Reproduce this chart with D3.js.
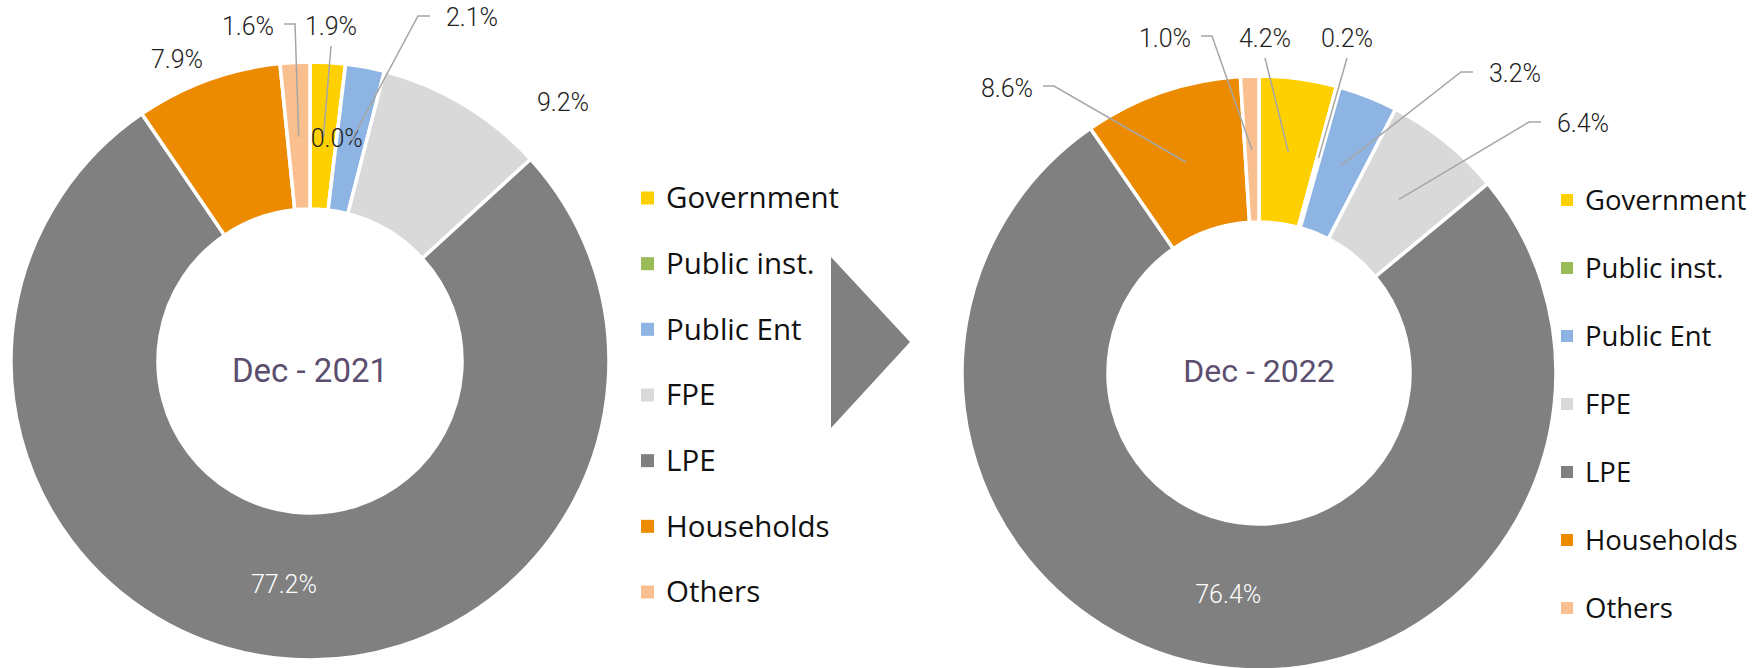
<!DOCTYPE html>
<html>
<head>
<meta charset="utf-8">
<script src="https://cdn.jsdelivr.net/npm/d3@7"></script>
<style>
  body { margin: 0; background: #fff; }
  .pct { font-family: Roboto, sans-serif; font-weight: 300; fill: #222; }
  .legend text { font-family: "Open Sans", sans-serif; fill: #111; }
  .title { font-family: Roboto, sans-serif; fill: #5b4e6e; }
</style>
</head>
<body>
<div id="vis"></div>
<script>
// chart data
const categories = ['Government', 'Public inst.', 'Public Ent', 'FPE', 'LPE', 'Households', 'Others'];
const colors = ['#ffd000', '#9bbb59', '#8eb4e3', '#d9d9d9', '#808080', '#ed8b00', '#f9bf8f'];
const values2021 = [1.9, 0.0, 2.1, 9.2, 77.2, 7.9, 1.6];
const values2022 = [4.2, 0.2, 3.2, 6.4, 76.4, 8.6, 1.0];
const titles = ['Dec - 2021', 'Dec - 2022'];

const width = 1758, height = 668;

let svg = d3.select('#vis')
  .append('svg')
  .attr('width', width)
  .attr('height', height)
  .style('background-color', 'white');

let color = d3.scaleOrdinal().domain(categories).range(colors);
let fmt = v => d3.format('.1f')(v) + '%';

// label placement per donut (offset from centre), leader style:
// 'L' = elbow from the label's right side, 'R' = from the left side, 'B' = from below, null = none, 'C' = on the ring
let layouts = [
  {
    cx: 310, cy: 361, outer: 299, inner: 152,
    titleSize: 33, titleDy: 9,
    legendX: 641, legendY: [198, 592], legendFont: 29.5, sq: 13,
    labels: [[21, -335, 'B'], [0, 0, 'C'], [162, -344, 'R'], [253, -259, null], [0, 0, 'C'], [-133, -302, null], [-62, -335, 'L']]
  },
  {
    cx: 1259, cy: 373, outer: 297, inner: 151,
    titleSize: 32, titleDy: -2,
    legendX: 1561, legendY: [200, 608], legendFont: 27.5, sq: 12,
    labels: [[6, -335, 'B'], [88, -335, 'B'], [256, -300, 'R'], [324, -250, 'R'], [0, 0, 'C'], [-252, -285, 'L'], [-94, -335, 'L']]
  }
];

let pie = d3.pie().sort(null).value(d => d.value);

function drawDonut(values, title, lay) {
  let data = categories.map((c, i) => ({ name: c, value: values[i] }));
  let arcs = pie(data);
  let arc = d3.arc().innerRadius(lay.inner).outerRadius(lay.outer);
  let mid = d3.arc().innerRadius((lay.inner + lay.outer) / 2 - 1).outerRadius((lay.inner + lay.outer) / 2 - 1);

  let g = svg.append('g').attr('transform', `translate(${lay.cx},${lay.cy})`);

  g.selectAll('path.slice')
    .data(arcs)
    .join('path')
    .attr('class', 'slice')
    .attr('d', arc)
    .attr('fill', d => color(d.data.name))
    .attr('stroke', 'white')
    .attr('stroke-width', 3.5)
    .attr('stroke-linejoin', 'round');

  // centre title
  g.append('text')
    .attr('class', 'title')
    .attr('text-anchor', 'middle')
    .attr('y', lay.titleDy)
    .attr('dy', '0.35em')
    .style('font-size', lay.titleSize + 'px')
    .text(title);

  // leader lines + labels
  arcs.forEach((d, i) => {
    let [lx, ly, mode] = lay.labels[i];
    let [px, py] = mid.centroid(d);
    let isIn = mode === 'C';
    if (isIn) { lx = px; ly = py; }

    if (mode && !isIn) {
      let pts;
      if (mode === 'B') pts = [[lx, ly + 20], [px, py]];
      else if (mode === 'L') pts = [[lx + 36, ly - 2], [lx + 47, ly - 2], [px, py]];
      else pts = [[lx - 42, ly - 1], [lx - 54, ly - 1], [px, py]];
      g.append('path')
        .attr('d', d3.line()(pts))
        .attr('fill', 'none')
        .attr('stroke', '#a6a6a6')
        .attr('stroke-width', 1.5);
    }

    g.append('text')
      .attr('class', 'pct')
      .attr('x', lx)
      .attr('y', ly)
      .attr('dy', '0.35em')
      .attr('text-anchor', 'middle')
      .style('font-size', '25px')
      .style('fill', d.data.name === 'LPE' ? '#fff' : null)
      .text(fmt(d.data.value));
  });

  // legend
  let ly = d3.scalePoint().domain(categories).range(lay.legendY);
  let leg = svg.append('g').attr('class', 'legend');
  leg.selectAll('rect')
    .data(categories)
    .join('rect')
    .attr('x', lay.legendX)
    .attr('y', d => ly(d) - lay.sq / 2)
    .attr('width', lay.sq)
    .attr('height', lay.sq)
    .attr('fill', d => color(d));
  leg.selectAll('text')
    .data(categories)
    .join('text')
    .attr('x', lay.legendX + lay.sq + 12)
    .attr('y', d => ly(d))
    .attr('dy', '0.35em')
    .style('font-size', lay.legendFont + 'px')
    .text(d => d);
}

drawDonut(values2021, titles[0], layouts[0]);
drawDonut(values2022, titles[1], layouts[1]);

// arrow between the two charts
svg.append('path')
  .attr('d', d3.line()([[831, 257], [910, 342], [831, 428]]) + 'Z')
  .attr('fill', '#808080');
</script>
</body>
</html>
